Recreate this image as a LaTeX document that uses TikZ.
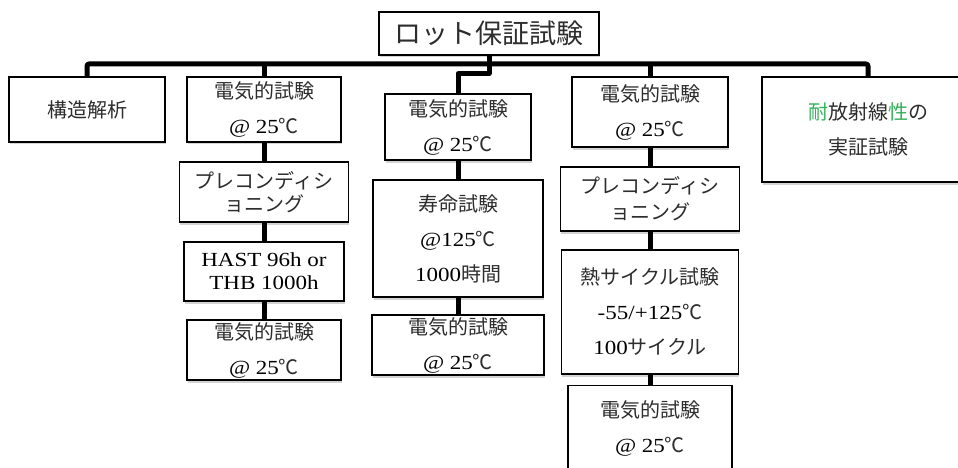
\documentclass[tikz,border=0pt]{standalone}
\usepackage{fontspec}
\setmainfont{Liberation Serif}[FakeStretch=1.15]
\newfontfamily\cjk{Noto Sans CJK JP}
\usetikzlibrary{shadows}
\definecolor{jgreen}{RGB}{52,178,90}
\definecolor{jtext}{RGB}{45,45,45}
\newcommand\J[1]{{\cjk\color{jtext}#1}}
\tikzset{
  box/.style={draw, line width=1.4pt, fill=white, inner sep=0pt, align=center,
    drop shadow={opacity=0.35, shadow xshift=0.8pt, shadow yshift=-2.5pt},
    font=\fontsize{20}{35}\selectfont},
  tight/.style={font=\fontsize{20}{23}\selectfont},
  conn/.style={line width=5pt, line join=round},
  txt/.style={inner sep=0pt, align=center, font=\fontsize{20}{35}\selectfont}
}
\begin{document}
\begin{tikzpicture}[x=1pt,y=-1pt]
\useasboundingbox (0,0) rectangle (958,468);
\clip (0,0) rectangle (958,468);
\coordinate (bus) at (0,64);
\node[box, minimum width=220, minimum height=43, font=\fontsize{27}{30}\selectfont] (title) at (489,33.5) {\J{ロット保証試験}};
\node[box, minimum width=156, minimum height=65] (kozo) at (87,109.5) {\J{構造解析}};
\node[box, minimum width=154, minimum height=65] (c2a) at (264,109.5) {\J{電気的試験}\\@ 25\J{℃}};
\node[box, tight, minimum width=169, minimum height=60] (c2b) at (264,192) {\J{プレコンディシ}\\\J{ョニング}};
\node[box, tight, minimum width=160, minimum height=59] (c2c) at (264,271.5) {HAST 96h or\\THB 1000h};
\node[box, minimum width=154, minimum height=60] (c2d) at (264,350) {\J{電気的試験}\\@ 25\J{℃}};
\node[box, minimum width=146, minimum height=66] (c3a) at (458,127) {\J{電気的試験}\\@ 25\J{℃}};
\node[box, minimum width=170, minimum height=117] (c3b) at (458,238.5) {\J{寿命試験}\\@125\J{℃}\\1000\J{時間}};
\node[box, minimum width=172, minimum height=60] (c3c) at (458,345) {\J{電気的試験}\\@ 25\J{℃}};
\node[box, minimum width=156, minimum height=70] (c4a) at (650,112) {\J{電気的試験}\\@ 25\J{℃}};
\node[box, minimum width=179, minimum height=64, font=\fontsize{20}{26}\selectfont] (c4b) at (650,199) {\J{プレコンディシ}\\\J{ョニング}};
\node[box, minimum width=177, minimum height=124] (c4c) at (650,312) {\J{熱サイクル試験}\\-55/+125\J{℃}\\100\J{サイクル}};
\node[box, minimum width=164, minimum height=115, anchor=north] (c4d) at (650,385) {};
\node[txt] (c4dt) at (650,428) {\J{電気的試験}\\@ 25\J{℃}};
\node[box, minimum width=212, minimum height=105] (c5) at (868,129.5) {{\cjk{\color{jgreen}耐}{\color{jtext}放射線}{\color{jgreen}性}{\color{jtext}の}}\\\J{実証試験}};
% connectors
\draw[conn, rounded corners=2pt] (kozo.north) -- (kozo.north |- bus) -- (c5.north |- bus) -- (c5.north);
\draw[conn] (c2a.north) -- (c2a.north |- bus);
\draw[conn] (c4a.north) -- (c4a.north |- bus);
\draw[conn] (title.south) -- ++(0,18) -| (c3a.north);
\draw[conn] (c2a.south) -- (c2a.south |- c2b.north);
\draw[conn] (c2b.south) -- (c2b.south |- c2c.north);
\draw[conn] (c2c.south) -- (c2c.south |- c2d.north);
\draw[conn] (c3a.south) -- (c3a.south |- c3b.north);
\draw[conn] (c3b.south) -- (c3b.south |- c3c.north);
\draw[conn] (c4a.south) -- (c4a.south |- c4b.north);
\draw[conn] (c4b.south) -- (c4b.south |- c4c.north);
\draw[conn] (c4c.south) -- (c4c.south |- c4d.north);
\end{tikzpicture}
\end{document}
